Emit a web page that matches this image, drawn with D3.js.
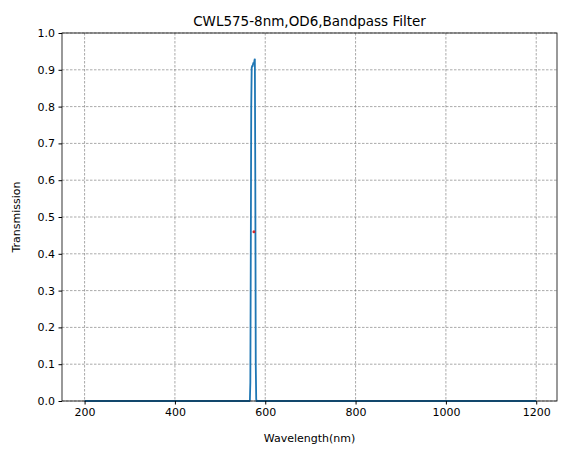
<!DOCTYPE html><html><head><script src="https://cdn.jsdelivr.net/npm/d3@7"></script>
<style>body{margin:0;background:#fff}text{font-family:"DejaVu Sans",sans-serif}</style></head><body>
<svg id="c" width="567" height="455"></svg>
<script>
const wavelength=[200,565,566,567,568,569,570,571,572,573,574,575,576,577,578,579,580,581,582,1200];
const transmission=[0,0,0.002,0.05,0.4,0.8,0.905,0.91,0.91,0.915,0.92,0.915,0.925,0.93,0.6,0.1,0.005,0,0,0];
const cwlPoint=[575,0.46];
const xTicks=[200,400,600,800,1000,1200];
const yTicks=d3.range(0,1.01,0.1);
const svg=d3.select("#c");
const L=62,R=557,T=33,B=401;
const x=d3.scaleLinear().domain([150,1246]).range([L,R]);
const y=d3.scaleLinear().domain([0,1]).range([B,T]);
const g=svg.append("g");
g.selectAll(".gx").data(xTicks).join("line").attr("x1",d=>x(d)).attr("x2",d=>x(d)).attr("y1",T).attr("y2",B).attr("stroke","#707070").attr("stroke-width",0.6).attr("stroke-dasharray","2.5,1.5");
g.selectAll(".gy").data(yTicks).join("line").attr("x1",L).attr("x2",R).attr("y1",d=>y(d)).attr("y2",d=>y(d)).attr("stroke","#707070").attr("stroke-width",0.6).attr("stroke-dasharray","2.5,1.5");
svg.append("path").datum(wavelength.map((w,i)=>[w,transmission[i]])).attr("fill","none").attr("stroke","#1f77b4").attr("stroke-width",1.8).attr("d",d3.line().x(d=>x(d[0])).y(d=>y(d[1])));
svg.append("circle").attr("cx",x(cwlPoint[0])).attr("cy",y(cwlPoint[1])).attr("r",1.5).attr("fill","#d62728");
const xa=svg.append("g").attr("transform",`translate(0,${B})`).call(d3.axisBottom(x).tickValues(xTicks).tickFormat(d3.format("d")).tickSize(3.5).tickPadding(3.5));
const ya=svg.append("g").attr("transform",`translate(${L},0)`).call(d3.axisLeft(y).tickValues(yTicks).tickFormat(d3.format(".1f")).tickSize(3.5).tickPadding(3.5));
[xa,ya].forEach(a=>{a.select(".domain").remove();a.selectAll("text").attr("font-size",11).attr("fill","#000");a.selectAll("line").attr("stroke","#000");});
svg.append("rect").attr("x",L).attr("y",T).attr("width",R-L).attr("height",B-T).attr("fill","none").attr("stroke","#000").attr("stroke-width",0.8);
svg.append("text").attr("x",(L+R)/2).attr("y",26).attr("text-anchor","middle").attr("font-size",13.5).text("CWL575-8nm,OD6,Bandpass Filter");
svg.append("text").attr("x",(L+R)/2).attr("y",442).attr("text-anchor","middle").attr("font-size",11).text("Wavelength(nm)");
svg.append("text").attr("transform",`translate(20,${(T+B)/2}) rotate(-90)`).attr("text-anchor","middle").attr("font-size",11).text("Transmission");
</script></body></html>
